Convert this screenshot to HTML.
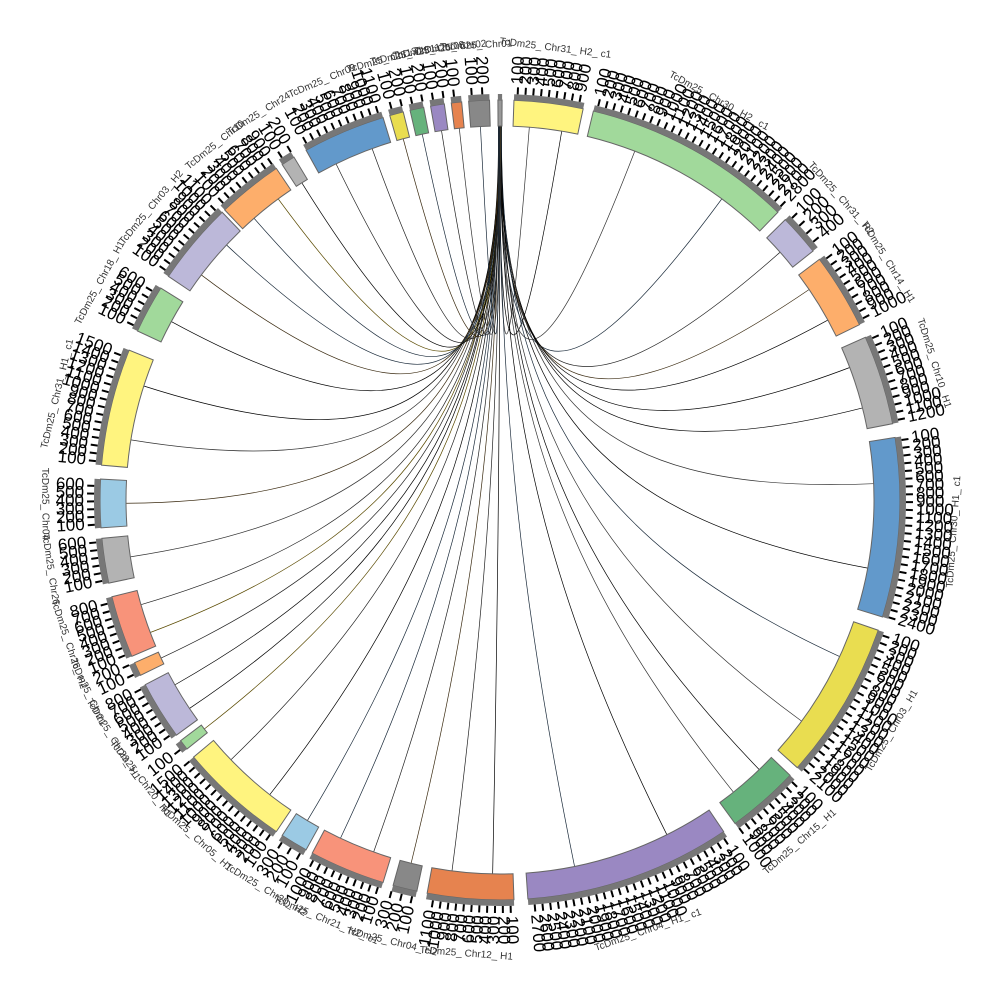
<!DOCTYPE html>
<html><head><meta charset="utf-8"><style>
html,body{margin:0;padding:0;background:#fff;}
svg{display:block}
text{font-family:"Liberation Sans",sans-serif;}
</style></head><body>
<svg id="s" width="1000" height="1000" xmlns="http://www.w3.org/2000/svg"></svg>
<script>
var segs=[
[359.7,0.3,'#999999',''],
[2,12,'#fff47f','TcDm25_Chr31_H2_c1'],
[13.5,44,'#a1d99b','TcDm25_Chr30_H2_c1'],
[45.5,51.5,'#bcb8d9','TcDm25_Chr31_H2'],
[53,64,'#fdae6b','TcDm25_Chr14_H1'],
[66,79,'#b3b3b3','TcDm25_Chr10_H1'],
[81,107,'#6299cb','TcDm25_Chr30_H1_c1'],
[109,132,'#e9dd50','TcDm25_Chr03_H1'],
[133.5,144,'#66b27c','TcDm25_Chr15_H1'],
[146,176,'#9a88c2','TcDm25_Chr04_H1_c1'],
[178,190.5,'#e6834f','TcDm25_Chr12_H1'],
[192,195.5,'#888888','TcDm25_Chr04_H2'],
[197,208,'#f8937a','TcDm25_Chr21_H2_c1'],
[209,213,'#9bcae4','TcDm25_Chr20_H2'],
[214,230,'#fff47f','TcDm25_Chr05_H1'],
[231.5,233,'#a1d99b','TcDm25_Chr20_H1'],
[234,242.5,'#bcb8d9','TcDm25_Chr23_H1'],
[244,246,'#fdae6b','TcDm25_Chr21'],
[247,256,'#f8937a','TcDm25_Chr26_H2'],
[258,264.5,'#b3b3b3','TcDm25_Chr26'],
[266,273,'#9bcae4','TcDm25_Chr04'],
[275,292,'#fff47f','TcDm25_Chr31_H1_c1'],
[295,302,'#a1d99b','TcDm25_Chr18_H1'],
[304,316,'#bcb8d9','TcDm25_Chr03_H2'],
[316.5,326,'#fdae6b','TcDm25_Chr10'],
[327,329,'#b3b3b3','TcDm25_Chr24'],
[331,343,'#6299cb','TcDm25_Chr09'],
[344,346,'#e9dd50','TcDm25_Chr13'],
[347,349,'#66b27c','TcDm25_Chr11'],
[350,352,'#9a88c2','TcDm25_Chr08'],
[353,354.5,'#e6834f','TcDm25_Chr02'],
[355.5,358.5,'#888888','TcDm25_Chr01']
];
var cx=500,cy=500,R1=374,R2=400,R3=406;
function P(a,r){var t=a*Math.PI/180;return [cx+r*Math.sin(t),cy-r*Math.cos(t)];}
function arc(a1,a2,r1,r2){var p1=P(a1,r2),p2=P(a2,r2),p3=P(a2,r1),p4=P(a1,r1);var l=(a2-a1)>180?1:0;
return 'M'+p1+' A'+r2+','+r2+' 0 '+l+' 1 '+p2+' L'+p3+' A'+r1+','+r1+' 0 '+l+' 0 '+p4+'Z';}
var h='';
var seed=7;function rnd(){seed=(seed*9301+49297)%233280;return seed/233280;}
var cols=['#000','#000','#222','#333','#5a4a00','#3a2a10','#1a2a3a'];
for(var i=1;i<segs.length;i++){var s=segs[i];
 var n=(s[1]-s[0])>8?2:1;
 for(var k=0;k<n;k++){var a=s[0]+(s[1]-s[0])*(k+0.5)/n;var p=P(a,R1);
  var b=359.75+rnd()*0.5;var q=P(b,R1);
  var c1=[p[0]+(cx-p[0])*0.8,p[1]+(cy-p[1])*0.8];
  h+='<path d="M'+p+' C'+c1+' 500,380 '+q+'" fill="none" stroke="'+cols[Math.floor(rnd()*cols.length)]+'" stroke-width="0.7"/>';}}
for(var i=0;i<segs.length;i++){var s=segs[i];
 h+='<path d="'+arc(s[0],s[1],R1,R2)+'" fill="'+s[2]+'" stroke="#666" stroke-width="1"/>';
 h+='<path d="'+arc(s[0],s[1],R2,R3)+'" fill="#777"/>';
 if(i==0)continue;
 var step=(s[1]-s[0])>6?1.1:1.5;var j=0;
 for(var a=s[0]+0.5;a<=s[1];a+=step){j++;var p=P(a,R3),q=P(a,R3+7);
  h+='<line x1="'+p[0]+'" y1="'+p[1]+'" x2="'+q[0]+'" y2="'+q[1]+'" stroke="#000" stroke-width="2"/>';
  var t=P(a,R3+10);var rot=a-90;var anch='start';if(a>180){rot=a+90;anch='end';}
  h+='<text x="'+t[0]+'" y="'+t[1]+'" font-size="17" text-anchor="'+anch+'" dominant-baseline="middle" transform="rotate('+rot+' '+t[0]+' '+t[1]+')">'+(j*100)+'</text>';}
 var m=(s[0]+s[1])/2;var t=P(m,455);var rot=(m>90&&m<270)?m-180:m;
 h+='<text x="'+t[0]+'" y="'+t[1]+'" font-size="10" fill="#333" text-anchor="middle" dominant-baseline="middle" transform="rotate('+rot+' '+t[0]+' '+t[1]+')">'+s[3].replace(/_/g,'_ ')+'</text>';
}
document.getElementById('s').innerHTML=h;
</script>
</body></html>
